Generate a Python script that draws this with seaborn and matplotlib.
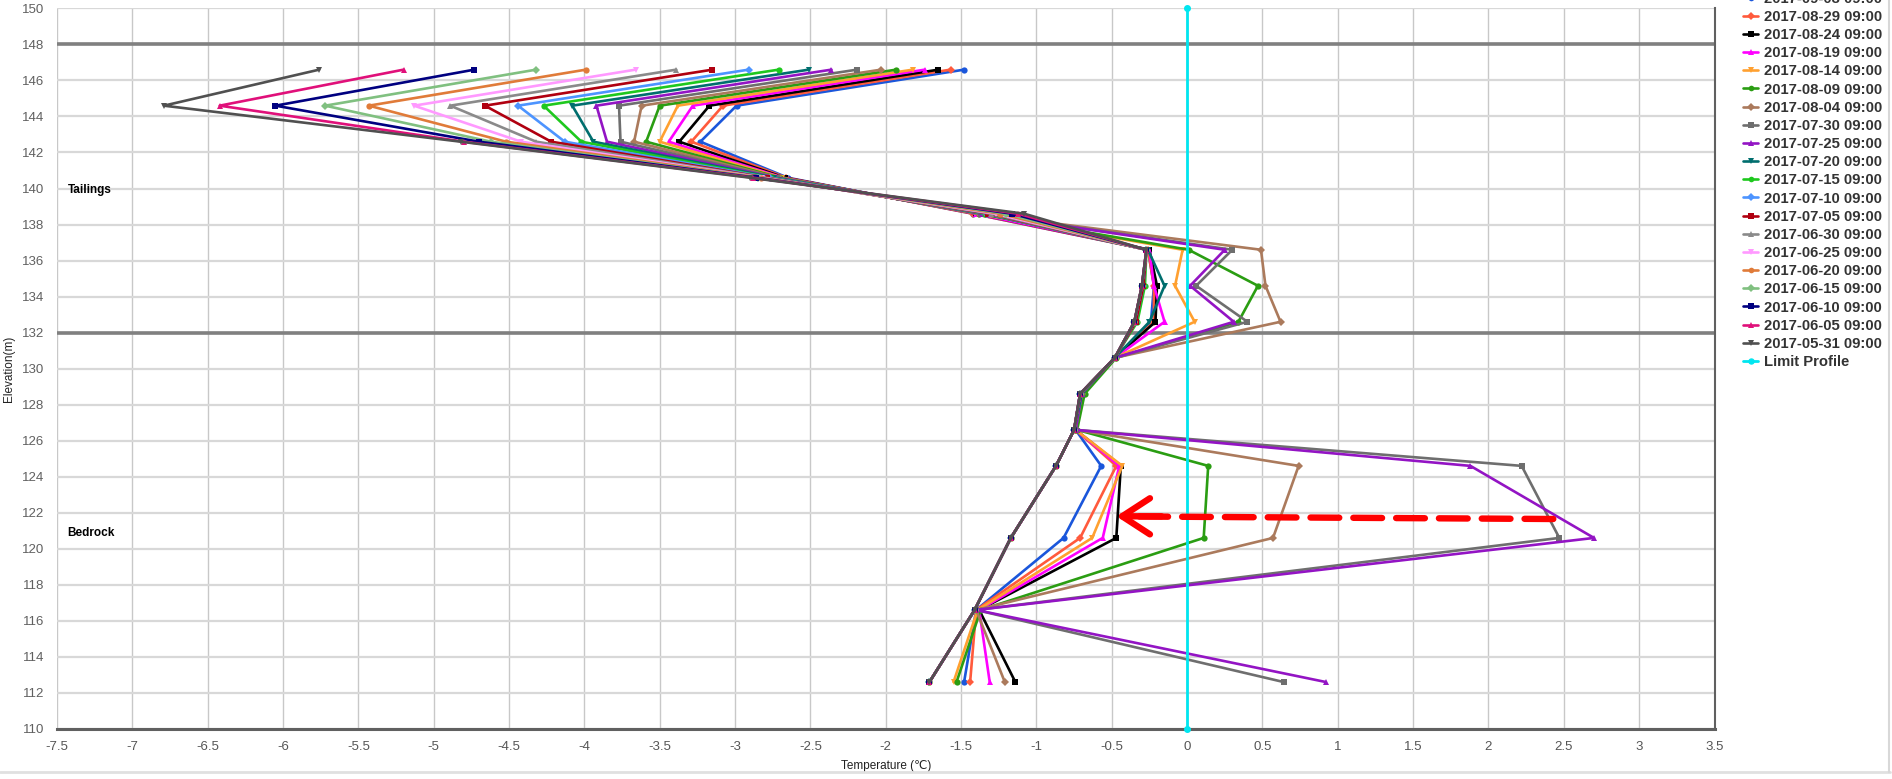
import numpy as np
import pandas as pd
import seaborn as sns
import matplotlib.pyplot as plt
from matplotlib.lines import Line2D

# Elevations of the thermistor beads (m)
elevation = [146.6, 144.6, 142.6, 140.6, 138.6, 136.6, 134.6, 132.6,
             130.6, 128.6, 126.6, 124.6, 120.6, 116.6, 112.6]

# Temperature profiles (deg C), newest first, as in the legend
t_2017_09_03 = [-1.48, -2.99, -3.23, -2.65, -1.42, -0.26, -0.22, -0.24, -0.48, -0.70, -0.74, -0.57, -0.82, -1.40, -1.48]
t_2017_08_29 = [-1.57, -3.08, -3.29, -2.66, -1.42, -0.26, -0.22, -0.22, -0.48, -0.70, -0.74, -0.47, -0.71, -1.40, -1.44]
t_2017_08_24 = [-1.65, -3.17, -3.37, -2.67, -1.40, -0.25, -0.20, -0.21, -0.48, -0.70, -0.74, -0.44, -0.47, -1.38, -1.14]
t_2017_08_19 = [-1.74, -3.28, -3.44, -2.68, -1.40, -0.25, -0.22, -0.15, -0.48, -0.70, -0.74, -0.45, -0.56, -1.38, -1.31]
t_2017_08_14 = [-1.82, -3.38, -3.50, -2.69, -1.39, -0.03, -0.08, 0.05, -0.48, -0.70, -0.74, -0.43, -0.63, -1.39, -1.55]
t_2017_08_09 = [-1.93, -3.50, -3.59, -2.70, -1.38, 0.01, 0.47, 0.34, -0.47, -0.68, -0.73, 0.14, 0.11, -1.37, -1.53]
t_2017_08_04 = [-2.03, -3.62, -3.67, -2.71, -1.38, 0.49, 0.52, 0.62, -0.48, -0.70, -0.74, 0.74, 0.57, -1.40, -1.21]
t_2017_07_30 = [-2.19, -3.77, -3.76, -2.72, -1.37, 0.30, 0.06, 0.40, -0.48, -0.70, -0.74, 2.22, 2.47, -1.40, 0.64]
t_2017_07_25 = [-2.36, -3.92, -3.85, -2.73, -1.36, 0.25, 0.02, 0.31, -0.48, -0.70, -0.74, 1.88, 2.70, -1.40, 0.92]
t_2017_07_20 = [-2.51, -4.08, -3.94, -2.74, -1.35, -0.26, -0.15, -0.25, -0.48, -0.70, -0.75, -0.87, -1.17, -1.41, -1.71]
t_2017_07_15 = [-2.71, -4.27, -4.02, -2.76, -1.34, -0.27, -0.28, -0.33, -0.48, -0.71, -0.75, -0.87, -1.17, -1.41, -1.71]
t_2017_07_10 = [-2.91, -4.44, -4.13, -2.77, -1.33, -0.27, -0.29, -0.34, -0.48, -0.71, -0.75, -0.87, -1.17, -1.41, -1.71]
t_2017_07_05 = [-3.15, -4.66, -4.22, -2.79, -1.32, -0.27, -0.29, -0.34, -0.48, -0.71, -0.75, -0.87, -1.17, -1.41, -1.71]
t_2017_06_30 = [-3.39, -4.89, -4.32, -2.80, -1.30, -0.27, -0.30, -0.35, -0.48, -0.71, -0.75, -0.87, -1.17, -1.41, -1.71]
t_2017_06_25 = [-3.66, -5.13, -4.42, -2.82, -1.27, -0.27, -0.30, -0.35, -0.48, -0.71, -0.75, -0.87, -1.17, -1.41, -1.71]
t_2017_06_20 = [-3.99, -5.43, -4.52, -2.83, -1.24, -0.27, -0.30, -0.35, -0.48, -0.71, -0.75, -0.87, -1.17, -1.41, -1.71]
t_2017_06_15 = [-4.32, -5.72, -4.62, -2.85, -1.20, -0.27, -0.30, -0.35, -0.48, -0.71, -0.75, -0.87, -1.17, -1.41, -1.71]
t_2017_06_10 = [-4.73, -6.05, -4.70, -2.86, -1.16, -0.27, -0.30, -0.35, -0.48, -0.71, -0.75, -0.87, -1.17, -1.41, -1.71]
t_2017_06_05 = [-5.20, -6.42, -4.80, -2.88, -1.12, -0.27, -0.30, -0.35, -0.48, -0.71, -0.75, -0.87, -1.17, -1.41, -1.71]
t_2017_05_31 = [-5.76, -6.79, -4.82, -2.90, -1.08, -0.27, -0.30, -0.35, -0.48, -0.71, -0.75, -0.87, -1.17, -1.41, -1.71]

series_names = ['2017-09-03 09:00', '2017-08-29 09:00', '2017-08-24 09:00', '2017-08-19 09:00',
                '2017-08-14 09:00', '2017-08-09 09:00', '2017-08-04 09:00', '2017-07-30 09:00',
                '2017-07-25 09:00', '2017-07-20 09:00', '2017-07-15 09:00', '2017-07-10 09:00',
                '2017-07-05 09:00', '2017-06-30 09:00', '2017-06-25 09:00', '2017-06-20 09:00',
                '2017-06-15 09:00', '2017-06-10 09:00', '2017-06-05 09:00', '2017-05-31 09:00']
series_values = [t_2017_09_03, t_2017_08_29, t_2017_08_24, t_2017_08_19, t_2017_08_14,
                 t_2017_08_09, t_2017_08_04, t_2017_07_30, t_2017_07_25, t_2017_07_20,
                 t_2017_07_15, t_2017_07_10, t_2017_07_05, t_2017_06_30, t_2017_06_25,
                 t_2017_06_20, t_2017_06_15, t_2017_06_10, t_2017_06_05, t_2017_05_31]

# Limit profile (0 deg C line)
limit_temp = [0, 0]
limit_elev = [110, 150]

# Layer boundaries and labels
layer_bounds = [148, 132]
layer_names = ['Tailings', 'Bedrock']
layer_label_elev = [139.9, 120.85]

# Annotation arrow (temperature, elevation)
arrow_tail = (2.43, 121.65)
arrow_tip = (-0.47, 121.8)

colors = ['#1a56db', '#ff5a3c', '#000000', '#ff00ff', '#ffa030', '#2a9d12', '#ab7a5c',
          '#6e6e6e', '#9314c4', '#006e6e', '#1ec81e', '#4d94ff', '#b00010', '#8a8a8a',
          '#ff99ff', '#e07b39', '#80c080', '#000080', '#e0107a', '#505050']
markers = ['o', 'D', 's', '^', 'v'] * 4

frames = []
for name, vals in zip(series_names, series_values):
    frames.append(pd.DataFrame({'series': name, 'temp': vals, 'elev': elevation}))
df = pd.concat(frames, ignore_index=True)

sns.set_style('whitegrid')
plt.rcParams['font.family'] = ['Liberation Sans', 'DejaVu Sans']

fig = plt.figure(figsize=(18.92, 7.79), dpi=100)
ax = fig.add_axes([0.0301, 0.0644, 0.8761, 0.9248])

for i, name in enumerate(series_names):
    sub = df[df['series'] == name]
    sns.lineplot(data=sub, x='temp', y='elev', sort=False, estimator=None, ax=ax,
                 color=colors[i], marker=markers[i], markersize=4.5, markeredgewidth=0,
                 linewidth=1.9, label=name, legend=False)

ax.plot(limit_temp, limit_elev, color='#00e6f0', lw=2, marker='o', markersize=4,
        label='Limit Profile', clip_on=False, zorder=5)

for b in layer_bounds:
    ax.axhline(b, color='#808080', lw=2.6, zorder=1)

for name, ye in zip(layer_names, layer_label_elev):
    ax.text(-7.43, ye, name, fontsize=8.5, fontweight='bold', color='black', va='center', ha='left')

# dashed red arrow
ax.annotate('', xy=(arrow_tip[0] + 0.12, arrow_tip[1] - 0.01), xytext=arrow_tail,
            arrowprops=dict(arrowstyle='-', color='#ff0000', lw=4.6, linestyle=(0, (4.5, 2.2)),
                            shrinkA=0, shrinkB=0), zorder=30)
ax.annotate('', xy=arrow_tip, xytext=(arrow_tip[0] + 0.3, arrow_tip[1]),
            arrowprops=dict(arrowstyle='->,head_length=1.0,head_width=0.65', color='#ff0000',
                            lw=4.6, mutation_scale=20, shrinkA=0, shrinkB=0), zorder=30)

ax.set_xlim(-7.5, 3.5)
ax.set_ylim(110, 150)
xt = np.arange(-7.5, 3.51, 0.5)
ax.set_xticks(xt)
ax.set_xticklabels([f'{v:g}' for v in xt])
yt = np.arange(110, 151, 2)
ax.set_yticks(yt)
ax.set_yticklabels([f'{v:d}' for v in yt])

ax.grid(axis='x', color='#c8c8c8', lw=1)
ax.grid(axis='y', color='#d8d8d8', lw=1.6)
ax.tick_params(axis='x', length=0, pad=9, labelsize=9.5, labelcolor='#555555')
ax.tick_params(axis='y', length=7, width=1, color='#ccd6eb', pad=2, labelsize=9.5, labelcolor='#606060')
ax.set_axisbelow(True)

for s in ['top', 'left']:
    ax.spines[s].set_visible(False)
ax.spines['bottom'].set_color('#606060')
ax.spines['bottom'].set_linewidth(2.2)
ax.spines['right'].set_color('#606060')
ax.spines['right'].set_linewidth(1.5)

ax.set_xlabel('Temperature (℃)', fontsize=8.5, color='#222222', labelpad=5)
ax.set_ylabel('Elevation(m)', fontsize=8.5, color='#222222', labelpad=5)

handles, labels = ax.get_legend_handles_labels()
leg = fig.legend(handles, labels, loc='upper left', bbox_to_anchor=(0.9215, 1.0105),
                 frameon=False, fontsize=10.7, handlelength=1.0, handletextpad=0.4,
                 labelspacing=0.28, borderpad=0, borderaxespad=0, markerscale=0.9)
for t in leg.get_texts():
    t.set_fontweight('bold')
    t.set_color('#333333')

fig.add_artist(Line2D([0, 0.999], [0.009, 0.009], color='#e0e0e0', lw=2, transform=fig.transFigure))
fig.add_artist(Line2D([0.9985, 0.9985], [0.009, 1.0], color='#d8d8d8', lw=1.5, transform=fig.transFigure))

fig.savefig('out.png', dpi=100)
